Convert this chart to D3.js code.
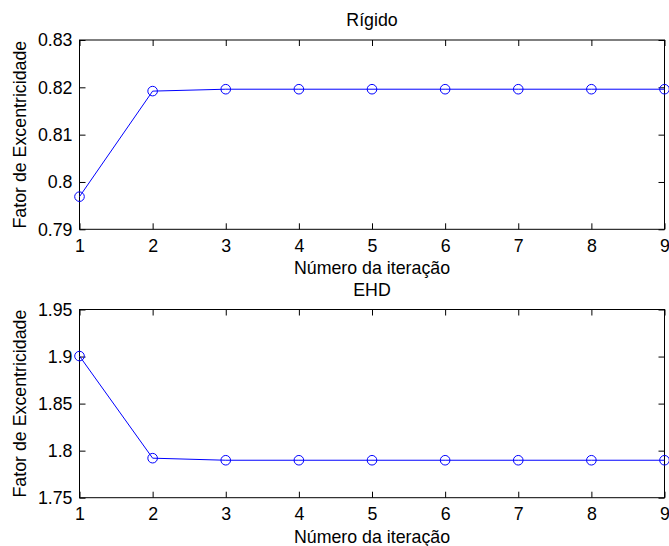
<!DOCTYPE html>
<html>
<head>
<meta charset="utf-8">
<script src="https://cdn.jsdelivr.net/npm/d3@7"></script>
<style>
  html, body { margin: 0; padding: 0; background: #fff; }
  svg { display: block; font-family: "Liberation Sans", Arial, Helvetica, sans-serif; }
</style>
</head>
<body>
<svg id="chart" width="669" height="546"></svg>
<script>
// Iteration numbers (x axis, shared by both panels)
const iterations = [1, 2, 3, 4, 5, 6, 7, 8, 9];
const xTicks = [1, 2, 3, 4, 5, 6, 7, 8, 9];

// Eccentricity factor per iteration
const rigidValues = [0.7969, 0.8192, 0.8196, 0.8196, 0.8196, 0.8196, 0.8196, 0.8196, 0.8196];
const ehdValues   = [1.9005, 1.7920, 1.7898, 1.7898, 1.7898, 1.7898, 1.7898, 1.7898, 1.7898];

// Y tick values and labels for each panel
const rigidYTicks = [0.79, 0.80, 0.81, 0.82, 0.83];
const rigidYLabels = ["0.79", "0.8", "0.81", "0.82", "0.83"];
const ehdYTicks = [1.75, 1.80, 1.85, 1.90, 1.95];
const ehdYLabels = ["1.75", "1.8", "1.85", "1.9", "1.95"];

const titles = ["Rígido", "EHD"];
const xLabel = "Número da iteração";
const yLabel = "Fator de Excentricidade";

const svg = d3.select("#chart");
const FONT = 17.8;
const TICK = 6;
const blue = "#0000ff";

function panel(opts) {
  const { left, right, top, bottom, values, yDomain, yTicks, yLabels, title } = opts;
  const x = d3.scaleLinear().domain([1, 9]).range([left, right]);
  const y = d3.scaleLinear().domain(yDomain).range([bottom, top]);
  const g = svg.append("g");

  // axes box
  g.append("rect")
    .attr("x", left).attr("y", top)
    .attr("width", right - left).attr("height", bottom - top)
    .attr("fill", "none").attr("stroke", "#000").attr("stroke-width", 1);

  // bottom x axis: inward ticks, labels below
  const xAxis = d3.axisBottom(x).tickValues(xTicks).tickFormat(d3.format("d"))
    .tickSizeInner(-TICK).tickSizeOuter(0).tickPadding(TICK + 7);
  const gx = g.append("g").attr("transform", `translate(0,${bottom})`).call(xAxis);
  // top x axis: inward ticks only
  const gxTop = g.append("g").attr("transform", `translate(0,${top})`)
    .call(d3.axisTop(x).tickValues(xTicks).tickSizeInner(-TICK).tickSizeOuter(0).tickFormat(""));
  // left y axis
  const yAxis = d3.axisLeft(y).tickValues(yTicks)
    .tickFormat((d, i) => yLabels[i])
    .tickSizeInner(-TICK).tickSizeOuter(0).tickPadding(7);
  const gy = g.append("g").attr("transform", `translate(${left},0)`).call(yAxis);
  // right y axis: inward ticks only
  const gyR = g.append("g").attr("transform", `translate(${right},0)`)
    .call(d3.axisRight(y).tickValues(yTicks).tickSizeInner(-TICK).tickSizeOuter(0).tickFormat(""));

  [gx, gxTop, gy, gyR].forEach(a => {
    a.select(".domain").remove();
    a.selectAll(".tick line").attr("stroke", "#000").attr("stroke-width", 1);
    a.selectAll(".tick text")
      .attr("fill", "#000")
      .style("font-size", FONT + "px")
      .style("font-family", "'Liberation Sans', Arial, sans-serif");
  });
  gx.selectAll(".tick text").attr("dy", null).attr("y", TICK + 16.5);

  // data line
  const line = d3.line().x((d, i) => x(iterations[i])).y(d => y(d));
  g.append("path").datum(values)
    .attr("d", line).attr("fill", "none")
    .attr("stroke", blue).attr("stroke-width", 1);

  // circle markers
  g.selectAll("circle.mk").data(values).enter().append("circle")
    .attr("class", "mk")
    .attr("cx", (d, i) => x(iterations[i])).attr("cy", d => y(d))
    .attr("r", 4.8).attr("fill", "none")
    .attr("stroke", blue).attr("stroke-width", 1);

  // title
  g.append("text")
    .attr("x", (left + right) / 2).attr("y", top - 14)
    .attr("text-anchor", "middle").style("font-size", FONT + "px")
    .text(title);

  // x label
  g.append("text")
    .attr("x", (left + right) / 2).attr("y", bottom + 45)
    .attr("text-anchor", "middle").style("font-size", FONT + "px")
    .text(xLabel);

  // y label
  g.append("text")
    .attr("transform", `translate(26,${(top + bottom) / 2}) rotate(-90)`)
    .attr("text-anchor", "middle").style("font-size", FONT + "px")
    .text(yLabel);
}

panel({ left: 79.5, right: 664.5, top: 40, bottom: 229.3,
        values: rigidValues, yDomain: [0.79, 0.83],
        yTicks: rigidYTicks, yLabels: rigidYLabels, title: titles[0] });
panel({ left: 79.5, right: 664.5, top: 309.5, bottom: 497.7,
        values: ehdValues, yDomain: [1.75, 1.95],
        yTicks: ehdYTicks, yLabels: ehdYLabels, title: titles[1] });
</script>
</body>
</html>
